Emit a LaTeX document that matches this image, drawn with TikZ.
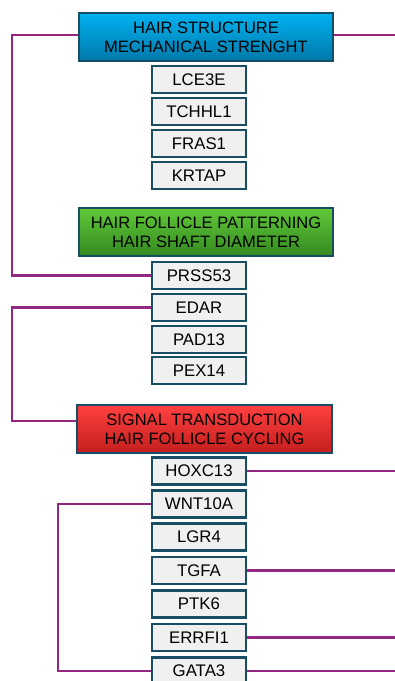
\documentclass[tikz,border=0pt]{standalone}
\usepackage{xcolor}
\usepackage{fontspec}
\setmainfont{Liberation Sans}
\usepackage{tikz}
\usetikzlibrary{positioning, calc}
\definecolor{boxedge}{RGB}{24, 78, 100}
\definecolor{genefill}{RGB}{240, 240, 240}
\definecolor{linkpurple}{RGB}{146, 38, 130}
\definecolor{bluetop}{RGB}{0, 178, 240}
\definecolor{bluebot}{RGB}{0, 120, 170}
\definecolor{greentop}{RGB}{96, 200, 56}
\definecolor{greenbot}{RGB}{52, 138, 32}
\definecolor{redtop}{RGB}{255, 64, 64}
\definecolor{redbot}{RGB}{196, 30, 30}

\tikzset{
  header/.style={draw=boxedge, line width=1.8pt, minimum width=254pt, minimum height=48pt,
                 align=center, inner sep=0pt, font=\fontsize{16.5}{19}\selectfont},
  gene/.style={draw=boxedge, fill=genefill, line width=2.2pt, minimum width=94pt,
               minimum height=27pt, inner sep=0pt, font=\fontsize{16.8}{19}\selectfont},
  link/.style={draw=linkpurple, line width=2.1pt}
}

\begin{document}
\begin{tikzpicture}[x=1pt, y=-1pt]
            \useasboundingbox (0,0) rectangle (395,681);
            \clip (0,0) rectangle (395,681);

            % the three headers
            \node[header, top color=bluetop, bottom color=bluebot] (hstruct) at (206,37)
                {HAIR STRUCTURE\\MECHANICAL STRENGHT};
            \node[header, top color=greentop, bottom color=greenbot] (hfoll) at (206,232)
                {HAIR FOLLICLE PATTERNING\\HAIR SHAFT DIAMETER};
            \node[header, top color=redtop, bottom color=redbot, minimum width=255pt] (hsig) at (204.5,429)
                {SIGNAL TRANSDUCTION\\HAIR FOLLICLE CYCLING};

            % gene boxes
            \foreach \gname/\gy in {LCE3E/79.5, TCHHL1/111.5, FRAS1/143.5, KRTAP/175.5,
                                   PRSS53/275.5, EDAR/307.5, PAD13/339.5, PEX14/370.5,
                                   HOXC13/471, WNT10A/504, LGR4/537, TGFA/570.5,
                                   PTK6/604, ERRFI1/637.5, GATA3/671}
                \node[gene] (\gname) at (199,\gy) {\gname};

            % connectors
            \coordinate (leftA) at (12,0);
            \coordinate (leftB) at (58,0);
            \coordinate (rightedge) at (395,0);

            \draw[link] ([yshift=2pt]hstruct.west) -- ([yshift=2pt]hstruct.west -| leftA) |- (PRSS53.west);
            \draw[link] ([yshift=2pt]hstruct.east) -- ([yshift=2pt]hstruct.east -| rightedge);
            \draw[link] (EDAR.west) -- (EDAR.west -| leftA) |- ([yshift=8pt]hsig.west);
            \draw[link] (WNT10A.west) -- (WNT10A.west -| leftB) |- (GATA3.west);
            \foreach \gname in {HOXC13, TGFA, ERRFI1, GATA3}
                \draw[link] (\gname.east) -- (\gname.east -| rightedge);
        \end{tikzpicture}
\end{document}
